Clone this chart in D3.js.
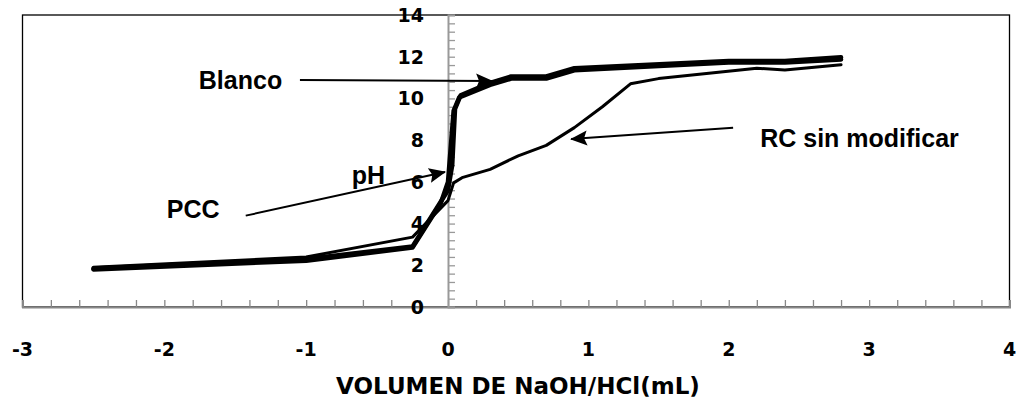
<!DOCTYPE html>
<html>
<head>
<meta charset="utf-8">
<script src="https://cdn.jsdelivr.net/npm/d3@7"></script>
<style>
  body { margin: 0; background: #fff; }
</style>
</head>
<body>
<script>
// tick labels
var xTicks = [-3, -2, -1, 0, 1, 2, 3, 4];
var yTicks = [0, 2, 4, 6, 8, 10, 12, 14];

// volumen (mL) / pH for each curve
var blancoX = [-2.5, -1, -0.25, 0, 0.03, 0.05, 0.09, 0.3, 0.45, 0.7, 0.9, 2.0, 2.4, 2.8];
var blancoY = [1.85, 2.3, 2.9, 5.6, 6.8, 9.5, 10.15, 10.75, 11.05, 11.05, 11.45, 11.8, 11.8, 11.97];

var pccX = [-2.5, -1, -0.25, -0.05, 0, 0.04, 0.08, 0.3, 0.45, 0.7, 0.9, 2.0, 2.4, 2.8];
var pccY = [1.8, 2.22, 2.85, 5.0, 6.0, 9.4, 10.05, 10.65, 10.95, 10.95, 11.35, 11.72, 11.72, 11.87];

var rcX = [-2.5, -1, -0.25, 0, 0.04, 0.1, 0.3, 0.5, 0.7, 0.9, 1.1, 1.3, 1.5, 2.2, 2.4, 2.8];
var rcY = [1.9, 2.4, 3.35, 5.1, 5.95, 6.2, 6.6, 7.25, 7.75, 8.6, 9.6, 10.7, 10.95, 11.45, 11.36, 11.62];

var w = 1029;
var h = 402;

var svg = d3.select("body")
    .append("svg")
    .attr("width", w)
    .attr("height", h);

var xScale = d3.scaleLinear()
    .domain([-3, 0, 4])
    .range([22.5, 448, 1009.5]);

var yScale = d3.scaleLinear()
    .domain([0, 14])
    .range([307, 15]);

// plot frame
svg.append("rect")
    .attr("x", xScale(-3))
    .attr("y", yScale(14))
    .attr("width", xScale(4) - xScale(-3))
    .attr("height", yScale(0) - yScale(14))
    .attr("fill", "none")
    .attr("stroke", "#000")
    .attr("stroke-width", 1.3);

// x axis with minor ticks
var xAxis = d3.axisTop(xScale)
    .tickValues(d3.range(-3, 4.001, 0.2))
    .tickSize(7)
    .tickFormat("");

svg.append("g")
    .attr("transform", "translate(0," + yScale(0) + ")")
    .call(xAxis)
    .call(function(g) {
        g.select(".domain").attr("stroke", "#888").attr("stroke-width", 2);
        g.selectAll(".tick line").attr("stroke", "#888").attr("stroke-width", 1.3);
    });

// y axis with minor ticks
var yAxis = d3.axisRight(yScale)
    .tickValues(d3.range(0, 14.001, 0.4))
    .tickSize(7)
    .tickFormat("");

svg.append("g")
    .attr("transform", "translate(" + xScale(0) + ",0)")
    .call(yAxis)
    .call(function(g) {
        g.select(".domain").attr("stroke", "#999").attr("stroke-width", 2);
        g.selectAll(".tick line").attr("stroke", "#999").attr("stroke-width", 1.3);
    });

// tick labels
svg.selectAll("text.xlab")
    .data(xTicks)
    .enter()
    .append("text")
    .attr("class", "xlab")
    .attr("x", function(d) { return xScale(d); })
    .attr("y", 349)
    .attr("dy", ".36em")
    .attr("text-anchor", "middle")
    .attr("font-family", "DejaVu Sans")
    .attr("font-weight", "bold")
    .attr("font-size", "19px")
    .text(function(d) { return d; });

svg.selectAll("text.ylab")
    .data(yTicks)
    .enter()
    .append("text")
    .attr("class", "ylab")
    .attr("x", 424)
    .attr("y", function(d) { return yScale(d); })
    .attr("dy", ".36em")
    .attr("text-anchor", "end")
    .attr("font-family", "DejaVu Sans")
    .attr("font-weight", "bold")
    .attr("font-size", "19px")
    .text(function(d) { return d; });

svg.append("text")
    .attr("x", 518)
    .attr("y", 394)
    .attr("text-anchor", "middle")
    .attr("font-family", "DejaVu Sans")
    .attr("font-weight", "bold")
    .attr("font-size", "23px")
    .text("VOLUMEN DE NaOH/HCl(mL)");

// curves
var line = d3.line()
    .x(function(d) { return xScale(d[0]); })
    .y(function(d) { return yScale(d[1]); });

function pairs(xs, ys) {
    return xs.map(function(x, i) { return [x, ys[i]]; });
}

var series = [
    { name: "RC sin modificar", pts: pairs(rcX, rcY), width: 3 },
    { name: "PCC", pts: pairs(pccX, pccY), width: 4.5 },
    { name: "Blanco", pts: pairs(blancoX, blancoY), width: 4.5 }
];

svg.selectAll("path.curve")
    .data(series)
    .enter()
    .append("path")
    .attr("class", "curve")
    .attr("d", function(d) { return line(d.pts); })
    .attr("fill", "none")
    .attr("stroke", "#000")
    .attr("stroke-width", function(d) { return d.width; })
    .attr("stroke-linejoin", "round")
    .attr("stroke-linecap", "round");

// arrow head
svg.append("defs")
    .append("marker")
    .attr("id", "head")
    .attr("markerUnits", "userSpaceOnUse")
    .attr("viewBox", "0 -8 17 16")
    .attr("refX", 16)
    .attr("refY", 0)
    .attr("markerWidth", 17)
    .attr("markerHeight", 16)
    .attr("orient", "auto")
    .append("path")
    .attr("d", "M0,-7.5L17,0L0,7.5L3,0Z")
    .attr("fill", "#000");

// labels with arrows (data units)
var notes = [
    { text: "Blanco", tx: -1.757, ty: 10.44, x1: -1.044, y1: 10.88, x2: 0.314, y2: 10.83 },
    { text: "RC sin modificar", tx: 2.224, ty: 7.68, x1: 2.031, y1: 8.6, x2: 0.877, y2: 8.05 },
    { text: "PCC", tx: -1.983, ty: 4.25, x1: -1.426, y1: 4.38, x2: -0.021, y2: 6.47 },
    { text: "pH", tx: -0.678, ty: 5.9 }
];

svg.selectAll("line.note")
    .data(notes.filter(function(d) { return d.x1 !== undefined; }))
    .enter()
    .append("line")
    .attr("class", "note")
    .attr("x1", function(d) { return xScale(d.x1); })
    .attr("y1", function(d) { return yScale(d.y1); })
    .attr("x2", function(d) { return xScale(d.x2); })
    .attr("y2", function(d) { return yScale(d.y2); })
    .attr("stroke", "#000")
    .attr("stroke-width", 2)
    .attr("marker-end", "url(#head)");

svg.selectAll("text.note")
    .data(notes)
    .enter()
    .append("text")
    .attr("class", "note")
    .attr("x", function(d) { return xScale(d.tx); })
    .attr("y", function(d) { return yScale(d.ty); })
    .attr("font-family", "Liberation Sans, Arial, sans-serif")
    .attr("font-weight", "bold")
    .attr("font-size", "25px")
    .text(function(d) { return d.text; });
</script>
</body>
</html>
